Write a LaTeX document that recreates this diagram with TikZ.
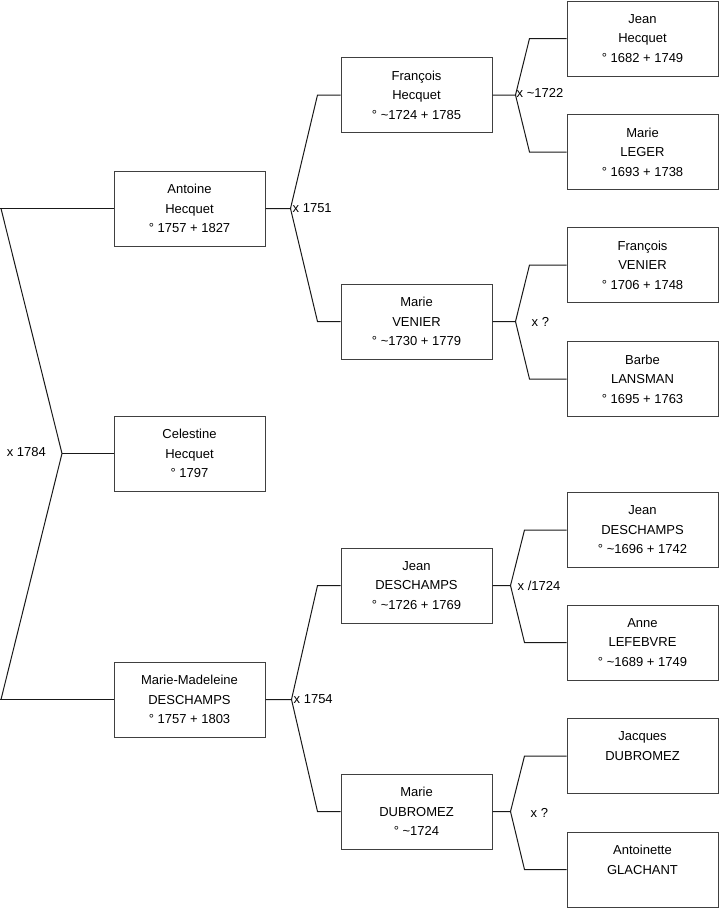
\documentclass[tikz,border=0pt]{standalone}
\usepackage{fontspec}
\setmainfont{Liberation Sans}
\begin{document}
\begin{tikzpicture}[x=1pt,y=-1pt,
  person/.style={draw=black!75,line width=1pt,minimum width=151pt,minimum height=75pt,inner sep=0pt,align=center,font=\fontsize{13}{19.5}\selectfont},
  conn/.style={draw=black!90,line width=1pt},
  mlabel/.style={inner sep=0pt,font=\fontsize{13}{15}\selectfont}]
\useasboundingbox (0,0) rectangle (719,908);
% generation 1
\node[person] (antoine) at (189.5,208.5) {Antoine\\Hecquet\\° 1757 + 1827};
\node[person] (celestine) at (189.5,453.5) {Celestine\\Hecquet\\° 1797};
\node[person] (mm) at (189.5,699.5) {Marie-Madeleine\\DESCHAMPS\\° 1757 + 1803};
% generation 2
\node[person] (fh) at (416.5,95) {François\\Hecquet\\° \textasciitilde1724 + 1785};
\node[person] (mv) at (416.5,321.5) {Marie\\VENIER\\° \textasciitilde1730 + 1779};
\node[person] (jd) at (416.5,585.5) {Jean\\DESCHAMPS\\° \textasciitilde1726 + 1769};
\node[person] (md) at (416.5,811.5) {Marie\\DUBROMEZ\\° \textasciitilde1724};
% generation 3
\node[person] (jh) at (642.5,38.5) {Jean\\Hecquet\\° 1682 + 1749};
\node[person] (ml) at (642.5,152) {Marie\\LEGER\\° 1693 + 1738};
\node[person] (fv) at (642.5,265) {François\\VENIER\\° 1706 + 1748};
\node[person] (bl) at (642.5,379) {Barbe\\LANSMAN\\° 1695 + 1763};
\node[person] (jd3) at (642.5,530) {Jean\\DESCHAMPS\\° \textasciitilde1696 + 1742};
\node[person] (al) at (642.5,642.5) {Anne\\LEFEBVRE\\° \textasciitilde1689 + 1749};
\node[person] (jad) at (642.5,756) {Jacques\\DUBROMEZ\\\mbox{}};
\node[person] (ag) at (642.5,869.5) {Antoinette\\GLACHANT\\\mbox{}};
% left fork (marriage of Antoine and Marie-Madeleine)
\coordinate (v0) at (62,453.5);
\coordinate (c0a) at (1,208.5);
\coordinate (c0b) at (1,699.5);
\draw[conn] (antoine.west) -- (0,208.5);
\draw[conn] (mm.west) -- (0,699.5);
\draw[conn] (c0a) -- (v0) -- (c0b);
\draw[conn] (v0) -- (celestine.west);
\node[mlabel,anchor=east] (l0) at (46,452) {x 1784};
% forks of generation 1
\coordinate (v1) at ([xshift=25pt]antoine.east);
\draw[conn] (antoine.east) -- (v1) -- ([xshift=-23pt]fh.west) -- (fh.west);
\draw[conn] (v1) -- ([xshift=-23pt]mv.west) -- (mv.west);
\node[mlabel,anchor=west] (l1) at ([xshift=2pt]v1) {x 1751};
\coordinate (v2) at ([xshift=26pt]mm.east);
\draw[conn] (mm.east) -- (v2) -- ([xshift=-23pt]jd.west) -- (jd.west);
\draw[conn] (v2) -- ([xshift=-23pt]md.west) -- (md.west);
\node[mlabel,anchor=west] (l2) at ([xshift=2pt]v2) {x 1754};
% forks of generation 2
\coordinate (v3) at ([xshift=23pt]fh.east);
\draw[conn] (fh.east) -- (v3) -- ([xshift=-37pt]jh.west) -- (jh.west);
\draw[conn] (v3) -- ([xshift=-37pt]ml.west) -- (ml.west);
\node[mlabel,anchor=west] (l3) at ([xshift=1pt,yshift=2pt]v3) {x \textasciitilde1722};
\coordinate (v4) at ([xshift=23pt]mv.east);
\draw[conn] (mv.east) -- (v4) -- ([xshift=-37pt]fv.west) -- (fv.west);
\draw[conn] (v4) -- ([xshift=-37pt]bl.west) -- (bl.west);
\node[mlabel,anchor=west] (l4) at ([xshift=16pt]v4) {x ?};
\coordinate (v5) at ([xshift=18pt]jd.east);
\draw[conn] (jd.east) -- (v5) -- ([xshift=-42pt]jd3.west) -- (jd3.west);
\draw[conn] (v5) -- ([xshift=-42pt]al.west) -- (al.west);
\node[mlabel,anchor=west] (l5) at ([xshift=7pt]v5) {x /1724};
\coordinate (v6) at ([xshift=18pt]md.east);
\draw[conn] (md.east) -- (v6) -- ([xshift=-42pt]jad.west) -- (jad.west);
\draw[conn] (v6) -- ([xshift=-42pt]ag.west) -- (ag.west);
\node[mlabel,anchor=west] (l6) at ([xshift=20pt,yshift=-1pt]v6) {x ?};
\end{tikzpicture}
\end{document}
